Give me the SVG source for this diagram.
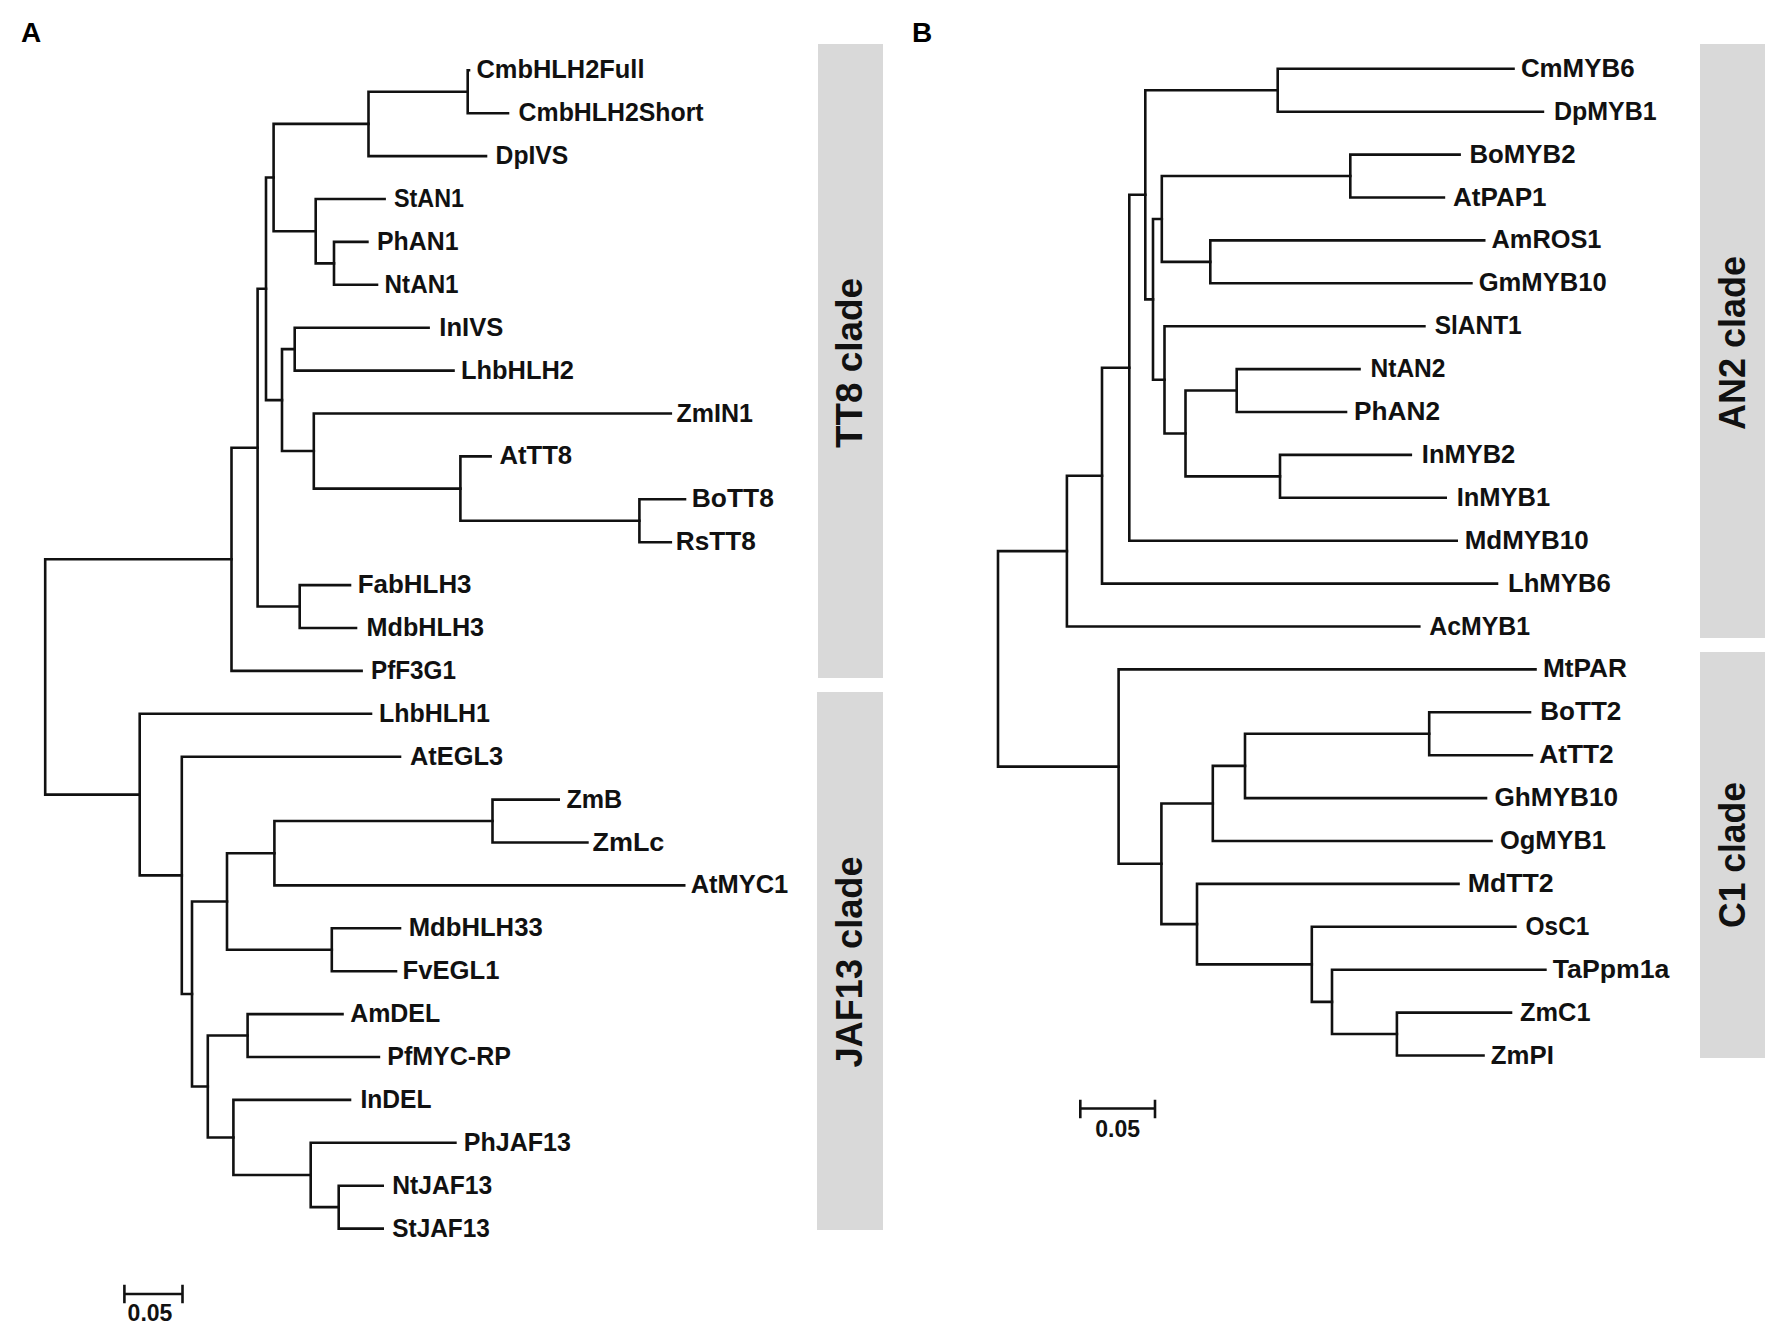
<svg xmlns="http://www.w3.org/2000/svg" width="1775" height="1333" viewBox="0 0 1775 1333">
<style>
.br{fill:none;stroke:#111;stroke-width:2.6;stroke-linejoin:miter;stroke-linecap:square}
.lb{font-family:"Liberation Sans",Arial,sans-serif;font-weight:bold;font-size:25px;fill:#111}
.cl{font-family:"Liberation Sans",Arial,sans-serif;font-weight:bold;font-size:36px;fill:#111;text-anchor:middle}
.pn{font-family:"Liberation Sans",Arial,sans-serif;font-weight:bold;font-size:28px;fill:#000}
.sc{font-family:"Liberation Sans",Arial,sans-serif;font-weight:bold;font-size:23px;fill:#111;text-anchor:middle}
.box{fill:#d9d9d9}
</style>
<rect width="1775" height="1333" fill="#fff"/>
<text class="pn" x="21" y="42">A</text>
<text class="pn" x="912" y="42">B</text>
<g id="clade-boxes">
<g id="clade-TT8"><rect class="box" x="818" y="44" width="65" height="634"/><text class="cl" transform="translate(862,363) rotate(-90)" textLength="170" lengthAdjust="spacingAndGlyphs">TT8 clade</text></g>
<g id="clade-JAF13"><rect class="box" x="817" y="692" width="66" height="538"/><text class="cl" transform="translate(862,962) rotate(-90)" textLength="211" lengthAdjust="spacingAndGlyphs">JAF13 clade</text></g>
<g id="clade-AN2"><rect class="box" x="1700" y="44" width="65" height="594"/><text class="cl" transform="translate(1745,343) rotate(-90)" textLength="174" lengthAdjust="spacingAndGlyphs">AN2 clade</text></g>
<g id="clade-C1"><rect class="box" x="1700" y="652" width="65" height="406"/><text class="cl" transform="translate(1745,855) rotate(-90)" textLength="146" lengthAdjust="spacingAndGlyphs">C1 clade</text></g>
</g>
<g id="branches">
<g id="branches-A" transform="translate(0,-1.5)">
<path class="br" d="M469 71.8 H467.7 V114.7 H508"/>
<path class="br" d="M467.7 93.25 H368.5 V157.6 H486"/>
<path class="br" d="M367.4 243.4 H334 V286.3 H377"/>
<path class="br" d="M384.6 200.5 H315.7 V264.85 H334"/>
<path class="br" d="M368.5 125.4 H273.6 V232.7 H315.7"/>
<path class="br" d="M428.6 329.2 H294.7 V372.1 H453.5"/>
<path class="br" d="M685 500.8 H639.4 V543.7 H670.8"/>
<path class="br" d="M490.6 457.9 H460.4 V522.25 H639.4"/>
<path class="br" d="M670.8 415 H313.8 V490.1 H460.4"/>
<path class="br" d="M294.7 350.65 H282 V452.55 H313.8"/>
<path class="br" d="M273.6 179.05 H266 V401.6 H282"/>
<path class="br" d="M350 586.6 H299.7 V629.5 H356"/>
<path class="br" d="M266 290.3 H257.6 V608.05 H299.7"/>
<path class="br" d="M257.6 449.2 H231.5 V672.4 H361.6"/>
<path class="br" d="M231.5 560.8 H45.2 V796.1 H139.7"/>
<path class="br" d="M558.7 801.1 H492.5 V844 H587.4"/>
<path class="br" d="M492.5 822.55 H274.4 V886.9 H684.2"/>
<path class="br" d="M400 929.8 H331.8 V972.7 H396"/>
<path class="br" d="M274.4 854.7 H227 V951.25 H331.8"/>
<path class="br" d="M342.5 1015.6 H247.6 V1058.5 H378.9"/>
<path class="br" d="M382.7 1187.2 H338.7 V1230.1 H382.7"/>
<path class="br" d="M455.4 1144.3 H310.7 V1208.65 H338.7"/>
<path class="br" d="M350 1101.4 H233.4 V1176.5 H310.7"/>
<path class="br" d="M247.6 1037.05 H207.8 V1138.95 H233.4"/>
<path class="br" d="M227 903 H192 V1088 H207.8"/>
<path class="br" d="M400 758.2 H181.8 V995.5 H192"/>
<path class="br" d="M371 715.3 H139.7 V876.85 H181.8"/>
</g>
<g id="branches-B" transform="translate(0,-3)">
<path class="br" d="M1513.5 71.8 H1277.7 V114.7 H1542.9"/>
<path class="br" d="M1459.6 157.6 H1350.3 V200.5 H1443.9"/>
<path class="br" d="M1484.2 243.4 H1210.3 V286.3 H1471.4"/>
<path class="br" d="M1350.3 179.05 H1161.8 V264.85 H1210.3"/>
<path class="br" d="M1359.5 372.1 H1236.7 V415 H1346"/>
<path class="br" d="M1410.8 457.9 H1280 V500.8 H1445.7"/>
<path class="br" d="M1236.7 393.55 H1185.5 V479.35 H1280"/>
<path class="br" d="M1424.4 329.2 H1164.5 V436.45 H1185.5"/>
<path class="br" d="M1161.8 221.95 H1153 V382.8 H1164.5"/>
<path class="br" d="M1277.7 93.25 H1145.3 V302.4 H1153"/>
<path class="br" d="M1145.3 197.8 H1129.3 V543.7 H1456.7"/>
<path class="br" d="M1129.3 370.75 H1102 V586.6 H1497"/>
<path class="br" d="M1102 478.7 H1066.9 V629.5 H1419.3"/>
<path class="br" d="M1066.9 554.1 H998 V769.6 H1118.6"/>
<path class="br" d="M1530 715.3 H1429.2 V758.2 H1531.9"/>
<path class="br" d="M1429.2 736.75 H1245 V801.1 H1486"/>
<path class="br" d="M1245 768.9 H1212.8 V844 H1491.5"/>
<path class="br" d="M1511 1015.6 H1396.9 V1058.5 H1483.5"/>
<path class="br" d="M1545.4 972.7 H1332 V1037.05 H1396.9"/>
<path class="br" d="M1515.4 929.8 H1311.8 V1004.9 H1332"/>
<path class="br" d="M1458.5 886.9 H1197 V967.35 H1311.8"/>
<path class="br" d="M1212.8 806.45 H1161.4 V927.1 H1197"/>
<path class="br" d="M1535.5 672.4 H1118.6 V866.8 H1161.4"/>
</g>
</g>
<g id="leaves-A" transform="translate(0,-1.5)">
<g id="CmbHLH2Full"><text class="lb" x="476.5" y="79.8" textLength="168" lengthAdjust="spacingAndGlyphs">CmbHLH2Full</text></g>
<g id="CmbHLH2Short"><text class="lb" x="518.6" y="122.7" textLength="185" lengthAdjust="spacingAndGlyphs">CmbHLH2Short</text></g>
<g id="DpIVS"><text class="lb" x="495.6" y="165.6" textLength="72.7" lengthAdjust="spacingAndGlyphs">DpIVS</text></g>
<g id="StAN1"><text class="lb" x="394" y="208.5" textLength="70" lengthAdjust="spacingAndGlyphs">StAN1</text></g>
<g id="PhAN1"><text class="lb" x="377" y="251.4" textLength="81.5" lengthAdjust="spacingAndGlyphs">PhAN1</text></g>
<g id="NtAN1"><text class="lb" x="384.6" y="294.3" textLength="74" lengthAdjust="spacingAndGlyphs">NtAN1</text></g>
<g id="InIVS"><text class="lb" x="439.3" y="337.2" textLength="64" lengthAdjust="spacingAndGlyphs">InIVS</text></g>
<g id="LhbHLH2"><text class="lb" x="461" y="380.1" textLength="113" lengthAdjust="spacingAndGlyphs">LhbHLH2</text></g>
<g id="ZmIN1"><text class="lb" x="676.5" y="423" textLength="76.5" lengthAdjust="spacingAndGlyphs">ZmIN1</text></g>
<g id="AtTT8"><text class="lb" x="499.4" y="465.9" textLength="72.7" lengthAdjust="spacingAndGlyphs">AtTT8</text></g>
<g id="BoTT8"><text class="lb" x="691.8" y="508.8" textLength="82" lengthAdjust="spacingAndGlyphs">BoTT8</text></g>
<g id="RsTT8"><text class="lb" x="675.8" y="551.7" textLength="80" lengthAdjust="spacingAndGlyphs">RsTT8</text></g>
<g id="FabHLH3"><text class="lb" x="357.8" y="594.6" textLength="113.7" lengthAdjust="spacingAndGlyphs">FabHLH3</text></g>
<g id="MdbHLH3"><text class="lb" x="366.6" y="637.5" textLength="117.5" lengthAdjust="spacingAndGlyphs">MdbHLH3</text></g>
<g id="PfF3G1"><text class="lb" x="371" y="680.4" textLength="85" lengthAdjust="spacingAndGlyphs">PfF3G1</text></g>
<g id="LhbHLH1"><text class="lb" x="378.9" y="723.3" textLength="111" lengthAdjust="spacingAndGlyphs">LhbHLH1</text></g>
<g id="AtEGL3"><text class="lb" x="410" y="766.2" textLength="93" lengthAdjust="spacingAndGlyphs">AtEGL3</text></g>
<g id="ZmB"><text class="lb" x="566.4" y="809.1" textLength="55.8" lengthAdjust="spacingAndGlyphs">ZmB</text></g>
<g id="ZmLc"><text class="lb" x="592.4" y="852" textLength="72" lengthAdjust="spacingAndGlyphs">ZmLc</text></g>
<g id="AtMYC1"><text class="lb" x="690.7" y="894.9" textLength="97.6" lengthAdjust="spacingAndGlyphs">AtMYC1</text></g>
<g id="MdbHLH33"><text class="lb" x="408.7" y="937.8" textLength="134" lengthAdjust="spacingAndGlyphs">MdbHLH33</text></g>
<g id="FvEGL1"><text class="lb" x="402.6" y="980.7" textLength="96.8" lengthAdjust="spacingAndGlyphs">FvEGL1</text></g>
<g id="AmDEL"><text class="lb" x="350.2" y="1023.6" textLength="90" lengthAdjust="spacingAndGlyphs">AmDEL</text></g>
<g id="PfMYC-RP"><text class="lb" x="387.3" y="1066.5" textLength="123.6" lengthAdjust="spacingAndGlyphs">PfMYC-RP</text></g>
<g id="InDEL"><text class="lb" x="360.5" y="1109.4" textLength="71" lengthAdjust="spacingAndGlyphs">InDEL</text></g>
<g id="PhJAF13"><text class="lb" x="463.8" y="1152.3" textLength="107" lengthAdjust="spacingAndGlyphs">PhJAF13</text></g>
<g id="NtJAF13"><text class="lb" x="392.3" y="1195.2" textLength="100" lengthAdjust="spacingAndGlyphs">NtJAF13</text></g>
<g id="StJAF13"><text class="lb" x="392.3" y="1238.1" textLength="97.6" lengthAdjust="spacingAndGlyphs">StJAF13</text></g>
</g>
<g id="leaves-B" transform="translate(0,-3)">
<g id="CmMYB6"><text class="lb" x="1520.9" y="79.8" textLength="113.7" lengthAdjust="spacingAndGlyphs">CmMYB6</text></g>
<g id="DpMYB1"><text class="lb" x="1553.9" y="122.7" textLength="102.7" lengthAdjust="spacingAndGlyphs">DpMYB1</text></g>
<g id="BoMYB2"><text class="lb" x="1469.5" y="165.6" textLength="106" lengthAdjust="spacingAndGlyphs">BoMYB2</text></g>
<g id="AtPAP1"><text class="lb" x="1453" y="208.5" textLength="93.5" lengthAdjust="spacingAndGlyphs">AtPAP1</text></g>
<g id="AmROS1"><text class="lb" x="1491.5" y="251.4" textLength="110" lengthAdjust="spacingAndGlyphs">AmROS1</text></g>
<g id="GmMYB10"><text class="lb" x="1478.7" y="294.3" textLength="128" lengthAdjust="spacingAndGlyphs">GmMYB10</text></g>
<g id="SlANT1"><text class="lb" x="1434.7" y="337.2" textLength="87" lengthAdjust="spacingAndGlyphs">SlANT1</text></g>
<g id="NtAN2"><text class="lb" x="1370.5" y="380.1" textLength="75" lengthAdjust="spacingAndGlyphs">NtAN2</text></g>
<g id="PhAN2"><text class="lb" x="1354" y="423" textLength="86" lengthAdjust="spacingAndGlyphs">PhAN2</text></g>
<g id="InMYB2"><text class="lb" x="1421.8" y="465.9" textLength="93.5" lengthAdjust="spacingAndGlyphs">InMYB2</text></g>
<g id="InMYB1"><text class="lb" x="1456.7" y="508.8" textLength="93.5" lengthAdjust="spacingAndGlyphs">InMYB1</text></g>
<g id="MdMYB10"><text class="lb" x="1464.7" y="551.7" textLength="124" lengthAdjust="spacingAndGlyphs">MdMYB10</text></g>
<g id="LhMYB6"><text class="lb" x="1508" y="594.6" textLength="102.7" lengthAdjust="spacingAndGlyphs">LhMYB6</text></g>
<g id="AcMYB1"><text class="lb" x="1429.2" y="637.5" textLength="100.8" lengthAdjust="spacingAndGlyphs">AcMYB1</text></g>
<g id="MtPAR"><text class="lb" x="1542.9" y="680.4" textLength="84" lengthAdjust="spacingAndGlyphs">MtPAR</text></g>
<g id="BoTT2"><text class="lb" x="1540.3" y="723.3" textLength="81" lengthAdjust="spacingAndGlyphs">BoTT2</text></g>
<g id="AtTT2"><text class="lb" x="1539.2" y="766.2" textLength="74.4" lengthAdjust="spacingAndGlyphs">AtTT2</text></g>
<g id="GhMYB10"><text class="lb" x="1494.5" y="809.1" textLength="123.6" lengthAdjust="spacingAndGlyphs">GhMYB10</text></g>
<g id="OgMYB1"><text class="lb" x="1500" y="852" textLength="106" lengthAdjust="spacingAndGlyphs">OgMYB1</text></g>
<g id="MdTT2"><text class="lb" x="1467.7" y="894.9" textLength="86" lengthAdjust="spacingAndGlyphs">MdTT2</text></g>
<g id="OsC1"><text class="lb" x="1525.6" y="937.8" textLength="63.8" lengthAdjust="spacingAndGlyphs">OsC1</text></g>
<g id="TaPpm1a"><text class="lb" x="1552.8" y="980.7" textLength="116.6" lengthAdjust="spacingAndGlyphs">TaPpm1a</text></g>
<g id="ZmC1"><text class="lb" x="1520" y="1023.6" textLength="70.5" lengthAdjust="spacingAndGlyphs">ZmC1</text></g>
<g id="ZmPI"><text class="lb" x="1490.8" y="1066.5" textLength="63" lengthAdjust="spacingAndGlyphs">ZmPI</text></g>
</g>
<g id="scale-A">
<path class="br" d="M124.4 1294 H182.5 M124.4 1286 V1302 M182.5 1286 V1302"/>
<text class="sc" x="150" y="1321">0.05</text>
</g>
<g id="scale-B">
<path class="br" d="M1080.3 1108.5 H1155 M1080.3 1101 V1117 M1155 1101 V1117"/>
<text class="sc" x="1117.6" y="1137">0.05</text>
</g>
</svg>
